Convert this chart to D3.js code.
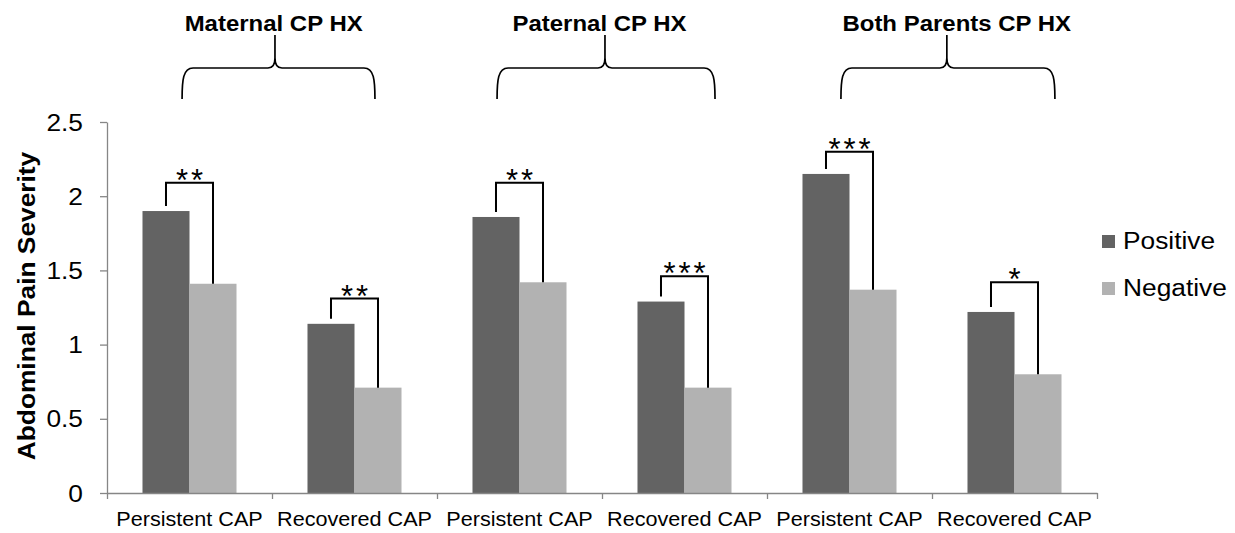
<!DOCTYPE html>
<html><head><meta charset="utf-8">
<script src="https://cdn.jsdelivr.net/npm/d3@7"></script>
<style>
body{margin:0;background:#fff}
svg{display:block}
text{font-family:Arial,"Liberation Sans",sans-serif;fill:#000}
</style>
</head><body>
<svg id="c" width="1235" height="533"></svg>
<script>
// ---- data ----
const categories = ["Persistent CAP","Recovered CAP","Persistent CAP","Recovered CAP","Persistent CAP","Recovered CAP"];
const series = ["Positive","Negative"];
const positive = [1.90,1.14,1.86,1.29,2.15,1.22];
const negative = [1.41,0.71,1.42,0.71,1.37,0.80];
const yTicks = [0,0.5,1,1.5,2,2.5];
const yTickLabels = ["0","0.5","1","1.5","2","2.5"];
const sigStars = ["**","**","**","***","***","*"];
const sigTop = [2.09,1.31,2.09,1.46,2.30,1.42];
const groupTitles = ["Maternal CP HX","Paternal CP HX","Both Parents CP HX"];
const titlePos = [1.01,2.985,5.15];      // category units
const braceLeft = [0.455,2.364,4.448];
const braceCusp = [1.018,3.018,5.09];
const braceRight = [1.624,3.685,5.745];
const yLabel = "Abdominal Pain Severity";

// ---- layout ----
const X0 = 107, X1 = 1097, Y0 = 493, Y1 = 122;
const colors = {Positive:"#636363", Negative:"#b2b2b2"};
const axisColor = "#868686";
const STRETCH = 1.12;

const svg = d3.select("#c");
const x = d3.scaleBand().domain(d3.range(categories.length)).range([X0,X1]);
const xu = d3.scaleLinear().domain([0,categories.length]).range([X0,X1]);
const xs = d3.scaleBand().domain(series).range([0,x.bandwidth()]).paddingOuter(0.755);
const y = d3.scaleLinear().domain([0,2.5]).range([Y0,Y1]);

function stext(g, txt, tx, ty, size, anchor, weight, rot){
  return g.append("text")
    .attr("transform", `translate(${tx},${ty})` + (rot ? ` rotate(${rot})` : "") + ` scale(${STRETCH},1)`)
    .attr("text-anchor", anchor)
    .style("font-size", size+"px")
    .style("font-weight", weight||"normal")
    .text(txt);
}

// bars
const rows = categories.map((c,i)=>({i, Positive:positive[i], Negative:negative[i]}));
const gBars = svg.append("g");
rows.forEach(r=>{
  series.forEach(s=>{
    gBars.append("rect")
      .attr("x", x(r.i)+xs(s))
      .attr("y", y(r[s]))
      .attr("width", xs.bandwidth())
      .attr("height", y(0)-y(r[s]))
      .attr("fill", colors[s]);
  });
});

// y axis
const yAxis = svg.append("g").attr("transform",`translate(${X0},0)`)
  .call(d3.axisLeft(y).tickValues(yTicks).tickSize(7).tickSizeOuter(0).tickPadding(17)
        .tickFormat((d,i)=>yTickLabels[i]));
yAxis.select(".domain").attr("stroke",axisColor).attr("stroke-width",1.3);
yAxis.selectAll(".tick line").attr("stroke",axisColor).attr("stroke-width",1.3);
yAxis.selectAll(".tick text").each(function(){
  const t = d3.select(this);
  const xx = +t.attr("x");
  t.attr("x",0).attr("dy",null).attr("font-family",null).attr("font-size",null)
   .attr("transform",`translate(${xx},8) scale(${STRETCH},1)`)
   .style("font-size","23.5px").attr("fill","#000");
});

// x axis
const xAxis = svg.append("g").attr("transform",`translate(0,${Y0})`)
  .call(d3.axisBottom(xu).tickValues(d3.range(categories.length+1)).tickSize(6).tickSizeOuter(0).tickFormat(""));
xAxis.select(".domain").attr("stroke",axisColor).attr("stroke-width",1.3);
xAxis.selectAll(".tick line").attr("stroke",axisColor).attr("stroke-width",1.3);
const gXL = svg.append("g");
categories.forEach((c,i)=>{
  stext(gXL, c, x(i)+x.bandwidth()/2, 526, 19.3, "middle");
});

// significance brackets
const gSig = svg.append("g");
rows.forEach(r=>{
  const i = r.i;
  const xl = x(i)+xs("Positive")+xs.bandwidth()/2;
  const xr = x(i)+xs("Negative")+xs.bandwidth()/2;
  const yt = y(sigTop[i]);
  gSig.append("path")
    .attr("d",`M${xl},${y(r.Positive)-5}V${yt}H${xr}V${y(r.Negative)}`)
    .attr("fill","none").attr("stroke","#000").attr("stroke-width",2);
  gSig.append("text")
    .attr("x",(xl+xr)/2+1.5).attr("y",yt+8)
    .attr("text-anchor","middle")
    .style("font-size","31px").style("letter-spacing","3px")
    .text(sigStars[i]);
});

// group braces and titles
const gBr = svg.append("g");
groupTitles.forEach((t,k)=>{
  const L = xu(braceLeft[k]), R = xu(braceRight[k]), C = xu(braceCusp[k]);
  const yb = 99, yh = 68, yc = 35;
  const d = `M${L},${yb}C${L},${yh+12} ${L+1},${yh} ${L+11},${yh}H${C-7}C${C-2},${yh} ${C},${yh-3} ${C},${yh-10}V${yc}`
          + `M${C},${yh-10}C${C},${yh-3} ${C+2},${yh} ${C+7},${yh}H${R-11}C${R-1},${yh} ${R},${yh+12} ${R},${yb}`;
  gBr.append("path").attr("d",d).attr("fill","none").attr("stroke","#000").attr("stroke-width",1.7);
  stext(gBr, t, xu(titlePos[k]), 31, 21.4, "middle", "bold");
});

// y label
stext(svg, yLabel, 35, 306, 23.5, "middle", "bold", -90);

// legend
const gL = svg.append("g");
series.forEach((s,j)=>{
  gL.append("rect").attr("x",1102).attr("y",235+j*47).attr("width",13).attr("height",13).attr("fill",colors[s]);
  stext(gL, s, 1123, 249+j*47, 23.5, "start");
});
</script>
</body></html>
